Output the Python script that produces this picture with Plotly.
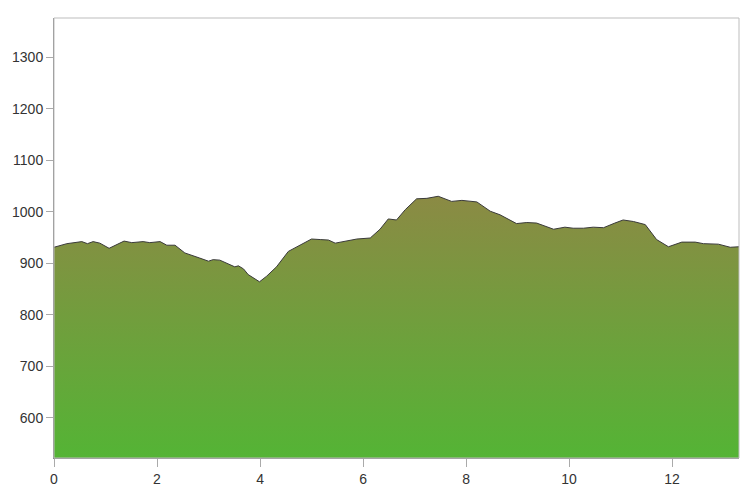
import plotly.graph_objects as go

distance_km = [0.0, 0.25, 0.54, 0.65, 0.76, 0.89, 1.07, 1.22, 1.36, 1.51, 1.73, 1.86, 2.06, 2.19, 2.35,
               2.54, 2.71, 2.83, 3.0, 3.09, 3.22, 3.42, 3.51, 3.58, 3.68, 3.77, 3.87, 3.99, 4.13, 4.32,
               4.55, 4.78, 5.0, 5.17, 5.33, 5.46, 5.68, 5.88, 6.14, 6.33, 6.49, 6.65, 6.82, 7.04, 7.24,
               7.46, 7.72, 7.92, 8.21, 8.47, 8.66, 8.98, 9.18, 9.37, 9.70, 9.92, 10.08, 10.28, 10.47,
               10.67, 10.89, 11.05, 11.25, 11.48, 11.70, 11.93, 12.19, 12.45, 12.61, 12.90, 13.13, 13.30]
elevation_m = [931, 938, 942, 938, 942, 939, 929, 937, 943, 940, 942, 940, 942, 935, 935,
               920, 915, 910, 904, 907, 906, 897, 893, 895, 889, 878, 871, 864, 875, 893,
               923, 935, 947, 946, 945, 939, 943, 947, 949, 966, 986, 984, 1004, 1025, 1026,
               1030, 1020, 1022, 1019, 1001, 994, 977, 979, 978, 966, 970, 968, 968, 970,
               969, 978, 984, 981, 975, 946, 932, 941, 941, 938, 937, 931, 932]

x_ticks = [0, 2, 4, 6, 8, 10, 12]
y_ticks = [600, 700, 800, 900, 1000, 1100, 1200, 1300]

fig = go.Figure()
fig.add_trace(go.Scatter(
    x=distance_km, y=elevation_m, mode="lines",
    line=dict(color="#3a3a3a", width=1),
    fill="tozeroy",
    fillgradient=dict(type="vertical", start=522, stop=1030,
                      colorscale=[[0, "#54b435"], [1, "#8b8a44"]]),
    hoverinfo="skip", showlegend=False,
))

fig.add_shape(type="rect", xref="paper", yref="paper", x0=0, x1=1, y0=0, y1=1,
              line=dict(color="#bdbdbd", width=1), layer="above")

fig.update_layout(
    width=748, height=481,
    margin=dict(l=46, r=17, t=10, b=31, autoexpand=False),
    paper_bgcolor="white", plot_bgcolor="white",
    font=dict(family="Liberation Sans, Arial, sans-serif", size=14, color="#333333"),
    xaxis=dict(range=[0, 13.3], tickvals=x_ticks, showgrid=False, zeroline=False,
               showline=True, linecolor="#888888", linewidth=1, automargin=False,
               ticks="outside", ticklen=8, tickcolor="#aaaaaa", tickwidth=1),
    yaxis=dict(range=[522, 1376], tickvals=y_ticks, showgrid=False, zeroline=False,
               showline=True, linecolor="#888888", linewidth=1, automargin=False,
               ticks="outside", ticklen=7, tickcolor="#aaaaaa", tickwidth=1),
)

fig.write_html("out.html")
